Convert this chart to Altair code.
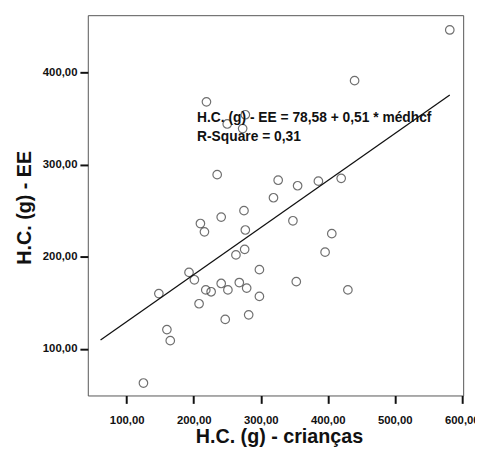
import altair as alt
import pandas as pd

# Data
hc_criancas = [582, 440, 219, 277, 250, 273, 235, 326, 355, 386, 420, 319, 275, 241, 210, 216,
               277, 348, 406, 276, 263, 396, 193, 201, 298, 241, 268, 279, 218, 226, 251, 353,
               430, 148, 298, 208, 247, 282, 160, 165, 125]
hc_ee = [446, 391, 368, 354, 344, 339, 289, 283, 277, 282, 285, 264, 250, 243, 236, 227,
         229, 239, 225, 208, 202, 205, 183, 175, 186, 171, 172, 166, 164, 162, 164, 173,
         164, 160, 157, 149, 132, 137, 121, 109, 63]

# Fit line as printed on the chart
intercept = 78.58
slope = 0.51
fit_x = [61, 582]
fit_y = [intercept + slope * v for v in fit_x]

annot_text = ["H.C. (g) - EE = 78,58 + 0,51 * médhcf", "R-Square = 0,31"]
annot_x = [205, 205]
annot_y = [350, 329.5]

x_ticks = [100, 200, 300, 400, 500, 600]
y_ticks = [100, 200, 300, 400]

FONT = "Liberation Sans"

pts = pd.DataFrame({"x": hc_criancas, "y": hc_ee})
fit = pd.DataFrame({"x": fit_x, "y": fit_y})
ann = pd.DataFrame({"x": annot_x, "y": annot_y, "t": annot_text})

label_expr = "replace(format(datum.value, '.2f'), '.', ',')"

xscale = alt.Scale(domain=[42, 602], nice=False, zero=False)
yscale = alt.Scale(domain=[49.5, 462], nice=False, zero=False)

xaxis = alt.Axis(values=x_ticks, labelExpr=label_expr, title="H.C. (g) - crianças",
                 grid=False, domain=False, tickSize=8, tickWidth=2, tickColor="#111",
                 labelFont=FONT, labelFontSize=11.5, labelFontWeight="bold", labelColor="#111",
                 labelPadding=11, labelFlush=False,
                 titleFont=FONT, titleFontSize=20, titleFontWeight="bold", titleColor="#111",
                 titleX=194, titleY=42, titleBaseline="middle", titleAlign="center")
yaxis = alt.Axis(values=y_ticks, labelExpr=label_expr, title="H.C. (g) - EE",
                 grid=False, domain=False, tickSize=8, tickWidth=2, tickColor="#111",
                 labelFont=FONT, labelFontSize=11.5, labelFontWeight="bold", labelColor="#111",
                 labelPadding=3,
                 titleFont=FONT, titleFontSize=20, titleFontWeight="bold", titleColor="#111",
                 titleX=-64, titleY=195, titleBaseline="middle", titleAlign="center",
                 titleAngle=270)

points = alt.Chart(pts).mark_point(shape="circle", filled=False, size=75,
                                   color="#333", strokeWidth=1.2).encode(
    x=alt.X("x:Q", scale=xscale, axis=xaxis),
    y=alt.Y("y:Q", scale=yscale, axis=yaxis),
)

line = alt.Chart(fit).mark_line(color="#111", strokeWidth=1.3).encode(
    x=alt.X("x:Q", scale=xscale),
    y=alt.Y("y:Q", scale=yscale),
)

text = alt.Chart(ann).mark_text(align="left", baseline="middle", font=FONT,
                                fontSize=14, fontWeight="bold", color="#111").encode(
    x=alt.X("x:Q", scale=xscale),
    y=alt.Y("y:Q", scale=yscale),
    text="t:N",
)

chart = alt.layer(points, line, text).properties(
    width=381, height=386,
    autosize=alt.AutoSizeParams(type="none"),
    padding={"left": 81, "top": 4, "right": 12, "bottom": 50},
    background="white",
).configure_view(stroke="#555", strokeWidth=1)

chart.save("out.html", embed_options={"renderer": "svg", "actions": False})
